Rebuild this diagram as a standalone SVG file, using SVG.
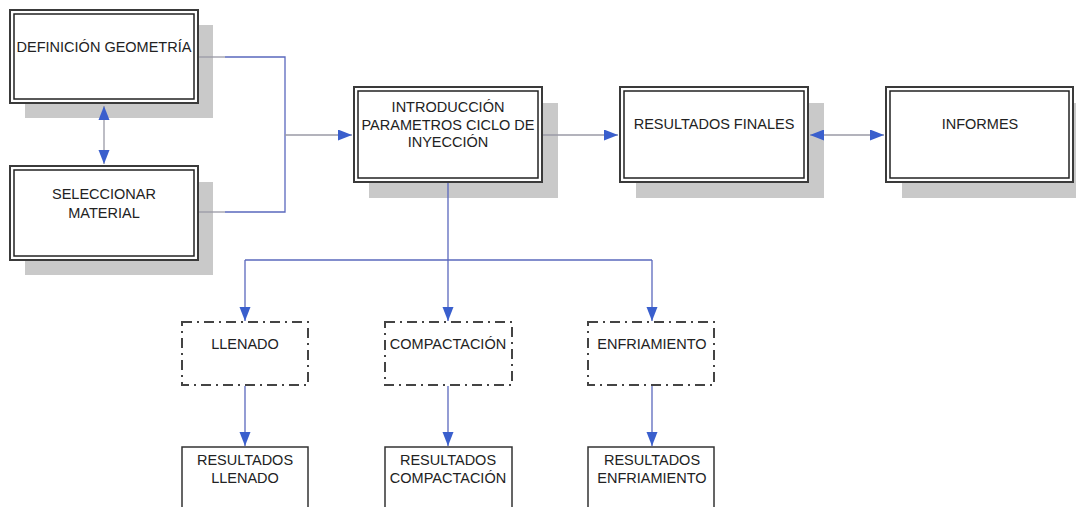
<svg xmlns="http://www.w3.org/2000/svg" width="1076" height="507" viewBox="0 0 1076 507">
<style>
.shadow{fill:#c9c9c9;stroke:none}
.outer{fill:#fff;stroke:#3a3a3a;stroke-width:2}
.inner{fill:none;stroke:#222;stroke-width:1.5}
.dash{fill:#fff;stroke:#444;stroke-width:2;stroke-dasharray:10 5 2 5}
.plain{fill:#fff;stroke:#333;stroke-width:1.5}
.t{font-family:"Liberation Sans",Arial,sans-serif;font-size:14.5px;fill:#222;text-anchor:middle}
.bl{fill:none;stroke:#5a68bd;stroke-width:1.3}
.gl{fill:none;stroke:#9a9aa6;stroke-width:1.3}
</style>
<defs>
<marker id="ah" markerUnits="userSpaceOnUse" markerWidth="16" markerHeight="12" refX="14" refY="5.5" orient="auto">
<path d="M0,0 L14,5.5 L0,11 z" fill="#3a5fcd"/>
</marker>
<marker id="ahs" markerUnits="userSpaceOnUse" markerWidth="16" markerHeight="12" refX="0" refY="5.5" orient="auto">
<path d="M14,0 L0,5.5 L14,11 z" fill="#3a5fcd"/>
</marker>
</defs>
<rect width="1076" height="507" fill="#fff"/>
<g id="definicion">
<rect class="shadow" x="25" y="25" width="188" height="93"/>
<rect class="outer" x="10" y="10" width="188" height="93"/>
<rect class="inner" x="14" y="14" width="180" height="85"/>
<text class="t" x="104" y="52">DEFINICIÓN GEOMETRÍA</text>
</g>
<g id="seleccionar">
<rect class="shadow" x="25" y="182" width="188" height="93"/>
<rect class="outer" x="10" y="166" width="188" height="94"/>
<rect class="inner" x="14" y="170" width="180" height="86"/>
<text class="t" x="104" y="199">SELECCIONAR</text>
<text class="t" x="104" y="218">MATERIAL</text>
</g>
<g id="introduccion">
<rect class="shadow" x="369" y="103" width="189" height="95"/>
<rect class="outer" x="354" y="87" width="188" height="95"/>
<rect class="inner" x="358" y="91" width="180" height="87"/>
<text class="t" x="448" y="112">INTRODUCCIÓN</text>
<text class="t" x="448" y="129.5">PARAMETROS CICLO DE</text>
<text class="t" x="448" y="147">INYECCIÓN</text>
</g>
<g id="resultados-finales">
<rect class="shadow" x="636" y="103" width="188" height="95"/>
<rect class="outer" x="620" y="87" width="188" height="95"/>
<rect class="inner" x="624" y="91" width="180" height="87"/>
<text class="t" x="714" y="129">RESULTADOS FINALES</text>
</g>
<g id="informes">
<rect class="shadow" x="902" y="103" width="190" height="95"/>
<rect class="outer" x="886" y="87" width="187" height="95"/>
<rect class="inner" x="890" y="91" width="179" height="87"/>
<text class="t" x="980" y="129">INFORMES</text>
</g>
<g id="llenado">
<rect class="dash" x="182" y="322" width="126" height="63"/>
<text class="t" x="245" y="349">LLENADO</text>
</g>
<g id="compactacion">
<rect class="dash" x="385" y="322" width="127" height="63"/>
<text class="t" x="448" y="349">COMPACTACIÓN</text>
</g>
<g id="enfriamiento">
<rect class="dash" x="588" y="322" width="126" height="63"/>
<text class="t" x="652" y="349">ENFRIAMIENTO</text>
</g>
<g id="resultados-llenado">
<rect class="plain" x="182" y="447" width="126" height="80"/>
<text class="t" x="245" y="465">RESULTADOS</text>
<text class="t" x="245" y="483">LLENADO</text>
</g>
<g id="resultados-compactacion">
<rect class="plain" x="385" y="447" width="127" height="80"/>
<text class="t" x="448" y="465">RESULTADOS</text>
<text class="t" x="448" y="483">COMPACTACIÓN</text>
</g>
<g id="resultados-enfriamiento">
<rect class="plain" x="588" y="447" width="126" height="80"/>
<text class="t" x="652" y="465">RESULTADOS</text>
<text class="t" x="652" y="483">ENFRIAMIENTO</text>
</g>
<g id="connectors">
<polyline class="gl" points="199,57 225,57"/>
<polyline class="bl" points="225,57 285,57 285,212 225,212"/>
<polyline class="gl" points="225,212 199,212"/>
<line class="gl" x1="285" y1="135" x2="352" y2="135" marker-end="url(#ah)"/>
<line class="gl" x1="104" y1="106" x2="104" y2="164" marker-start="url(#ahs)" marker-end="url(#ah)"/>
<line class="gl" x1="543" y1="135" x2="618" y2="135" marker-end="url(#ah)"/>
<line class="gl" x1="810" y1="135" x2="884" y2="135" marker-start="url(#ahs)" marker-end="url(#ah)"/>
<polyline class="bl" points="448,183 448,260"/>
<polyline class="bl" points="245,260 652,260"/>
<line class="bl" x1="245" y1="260" x2="245" y2="321" marker-end="url(#ah)"/>
<line class="bl" x1="448" y1="260" x2="448" y2="321" marker-end="url(#ah)"/>
<line class="bl" x1="652" y1="260" x2="652" y2="321" marker-end="url(#ah)"/>
<line class="bl" x1="245" y1="386" x2="245" y2="446" marker-end="url(#ah)"/>
<line class="bl" x1="448" y1="386" x2="448" y2="446" marker-end="url(#ah)"/>
<line class="bl" x1="652" y1="386" x2="652" y2="446" marker-end="url(#ah)"/>
</g>
</svg>
